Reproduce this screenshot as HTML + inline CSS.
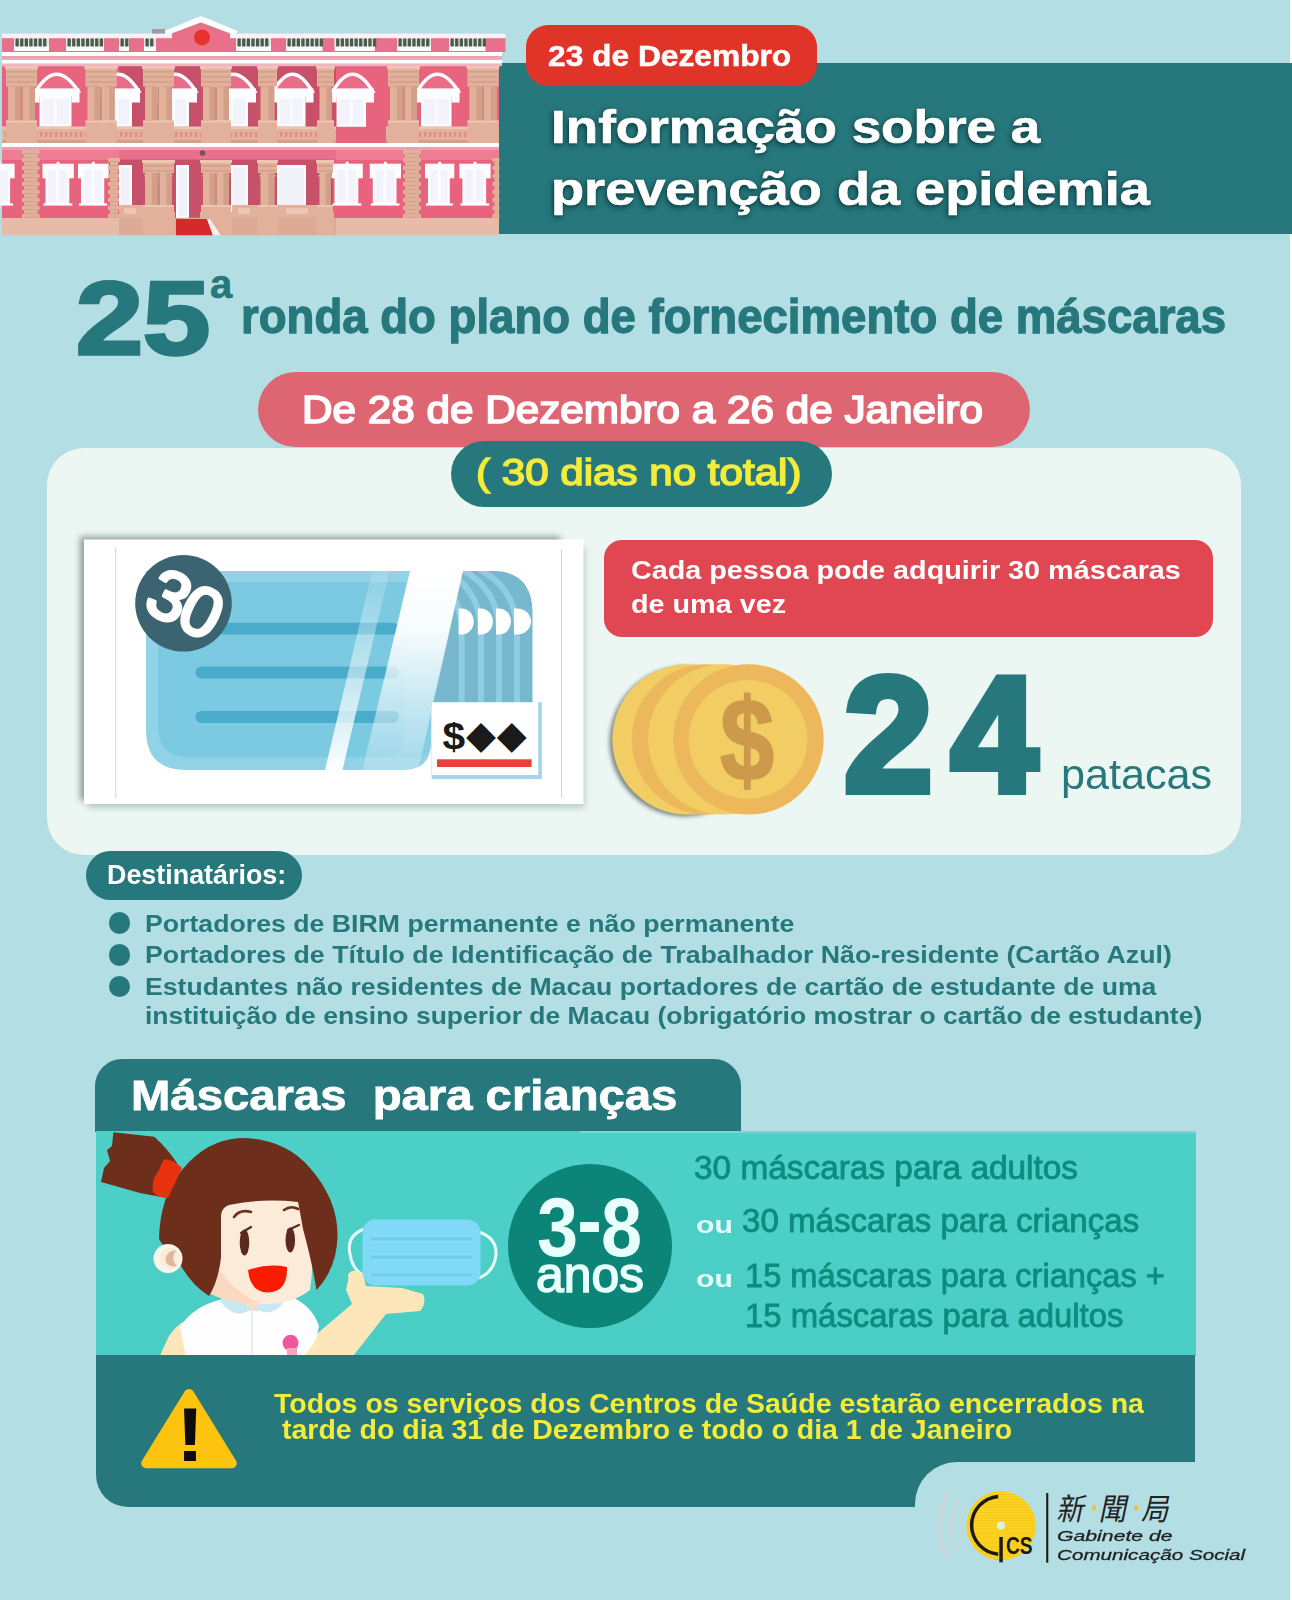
<!DOCTYPE html>
<html lang="pt"><head><meta charset="utf-8"><title>Informação sobre a prevenção da epidemia</title>
<style>
html,body{margin:0;padding:0;}
body{width:1292px;height:1600px;background:#b3dfe4;position:relative;overflow:hidden;font-family:"Liberation Sans","Noto Sans CJK TC",sans-serif;}
.b{position:absolute;}
.t{position:absolute;white-space:pre;line-height:1;transform-origin:0 0;display:block;}
svg{position:absolute;overflow:visible;}
</style></head>
<body>
<div class="b" style="left:1290px;top:0px;width:2px;height:1600px;background:#fff;"></div>
<div class="b" style="left:498px;top:63px;width:794px;height:171px;background:#26787c;"></div>
<svg width="510" height="240" style="left:0;top:0" viewBox="0 0 510 240"><defs><filter id="bb" x="-2%" y="-2%" width="104%" height="104%"><feGaussianBlur stdDeviation="0.7"/></filter><clipPath id="bclip"><rect x="0" y="12" width="505.5" height="40.5"/><rect x="0" y="52" width="502" height="14.5"/><rect x="0" y="66" width="499.3" height="169.6"/></clipPath></defs><g clip-path="url(#bclip)"><g filter="url(#bb)"><rect x="2.0" y="52.0" width="497.0" height="183.0" fill="#e8647e"/><rect x="119.0" y="66.0" width="217.0" height="77.0" fill="#c8516b"/><rect x="119.0" y="150.0" width="214.0" height="68.0" fill="#c8516b"/><rect x="2.0" y="35.0" width="504.0" height="17.0" fill="#e9708a"/><rect x="14.0" y="35.0" width="35.0" height="16.0" fill="#fdfcff"/><rect x="14.0" y="38.5" width="35.0" height="7.5" fill="#dfe8e2"/><rect x="15.5" y="38.3" width="3.3" height="8.2" fill="#4c5a4b"/><rect x="20.1" y="38.3" width="3.3" height="8.2" fill="#4c5a4b"/><rect x="24.7" y="38.3" width="3.3" height="8.2" fill="#4c5a4b"/><rect x="29.3" y="38.3" width="3.3" height="8.2" fill="#4c5a4b"/><rect x="33.9" y="38.3" width="3.3" height="8.2" fill="#4c5a4b"/><rect x="38.5" y="38.3" width="3.3" height="8.2" fill="#4c5a4b"/><rect x="43.1" y="38.3" width="3.3" height="8.2" fill="#4c5a4b"/><rect x="66.0" y="35.0" width="38.0" height="16.0" fill="#fdfcff"/><rect x="66.0" y="38.5" width="38.0" height="7.5" fill="#dfe8e2"/><rect x="67.5" y="38.3" width="3.3" height="8.2" fill="#4c5a4b"/><rect x="72.1" y="38.3" width="3.3" height="8.2" fill="#4c5a4b"/><rect x="76.7" y="38.3" width="3.3" height="8.2" fill="#4c5a4b"/><rect x="81.3" y="38.3" width="3.3" height="8.2" fill="#4c5a4b"/><rect x="85.9" y="38.3" width="3.3" height="8.2" fill="#4c5a4b"/><rect x="90.5" y="38.3" width="3.3" height="8.2" fill="#4c5a4b"/><rect x="95.1" y="38.3" width="3.3" height="8.2" fill="#4c5a4b"/><rect x="99.7" y="38.3" width="3.3" height="8.2" fill="#4c5a4b"/><rect x="119.0" y="35.0" width="10.0" height="16.0" fill="#fdfcff"/><rect x="119.0" y="38.5" width="10.0" height="7.5" fill="#dfe8e2"/><rect x="120.5" y="38.3" width="3.3" height="8.2" fill="#4c5a4b"/><rect x="125.1" y="38.3" width="3.3" height="8.2" fill="#4c5a4b"/><rect x="144.0" y="35.0" width="12.0" height="16.0" fill="#fdfcff"/><rect x="144.0" y="38.5" width="12.0" height="7.5" fill="#dfe8e2"/><rect x="145.5" y="38.3" width="3.3" height="8.2" fill="#4c5a4b"/><rect x="150.1" y="38.3" width="3.3" height="8.2" fill="#4c5a4b"/><rect x="236.0" y="35.0" width="35.0" height="16.0" fill="#fdfcff"/><rect x="236.0" y="38.5" width="35.0" height="7.5" fill="#dfe8e2"/><rect x="237.5" y="38.3" width="3.3" height="8.2" fill="#4c5a4b"/><rect x="242.1" y="38.3" width="3.3" height="8.2" fill="#4c5a4b"/><rect x="246.7" y="38.3" width="3.3" height="8.2" fill="#4c5a4b"/><rect x="251.3" y="38.3" width="3.3" height="8.2" fill="#4c5a4b"/><rect x="255.9" y="38.3" width="3.3" height="8.2" fill="#4c5a4b"/><rect x="260.5" y="38.3" width="3.3" height="8.2" fill="#4c5a4b"/><rect x="265.1" y="38.3" width="3.3" height="8.2" fill="#4c5a4b"/><rect x="286.0" y="35.0" width="36.5" height="16.0" fill="#fdfcff"/><rect x="286.0" y="38.5" width="36.5" height="7.5" fill="#dfe8e2"/><rect x="287.5" y="38.3" width="3.3" height="8.2" fill="#4c5a4b"/><rect x="292.1" y="38.3" width="3.3" height="8.2" fill="#4c5a4b"/><rect x="296.7" y="38.3" width="3.3" height="8.2" fill="#4c5a4b"/><rect x="301.3" y="38.3" width="3.3" height="8.2" fill="#4c5a4b"/><rect x="305.9" y="38.3" width="3.3" height="8.2" fill="#4c5a4b"/><rect x="310.5" y="38.3" width="3.3" height="8.2" fill="#4c5a4b"/><rect x="315.1" y="38.3" width="3.3" height="8.2" fill="#4c5a4b"/><rect x="319.7" y="38.3" width="3.3" height="8.2" fill="#4c5a4b"/><rect x="334.6" y="35.0" width="40.2" height="16.0" fill="#fdfcff"/><rect x="334.6" y="38.5" width="40.2" height="7.5" fill="#dfe8e2"/><rect x="336.1" y="38.3" width="3.3" height="8.2" fill="#4c5a4b"/><rect x="340.7" y="38.3" width="3.3" height="8.2" fill="#4c5a4b"/><rect x="345.3" y="38.3" width="3.3" height="8.2" fill="#4c5a4b"/><rect x="349.9" y="38.3" width="3.3" height="8.2" fill="#4c5a4b"/><rect x="354.5" y="38.3" width="3.3" height="8.2" fill="#4c5a4b"/><rect x="359.1" y="38.3" width="3.3" height="8.2" fill="#4c5a4b"/><rect x="363.7" y="38.3" width="3.3" height="8.2" fill="#4c5a4b"/><rect x="368.3" y="38.3" width="3.3" height="8.2" fill="#4c5a4b"/><rect x="372.9" y="38.3" width="3.3" height="8.2" fill="#4c5a4b"/><rect x="397.0" y="35.0" width="34.0" height="16.0" fill="#fdfcff"/><rect x="397.0" y="38.5" width="34.0" height="7.5" fill="#dfe8e2"/><rect x="398.5" y="38.3" width="3.3" height="8.2" fill="#4c5a4b"/><rect x="403.1" y="38.3" width="3.3" height="8.2" fill="#4c5a4b"/><rect x="407.7" y="38.3" width="3.3" height="8.2" fill="#4c5a4b"/><rect x="412.3" y="38.3" width="3.3" height="8.2" fill="#4c5a4b"/><rect x="416.9" y="38.3" width="3.3" height="8.2" fill="#4c5a4b"/><rect x="421.5" y="38.3" width="3.3" height="8.2" fill="#4c5a4b"/><rect x="426.1" y="38.3" width="3.3" height="8.2" fill="#4c5a4b"/><rect x="449.0" y="35.0" width="36.5" height="16.0" fill="#fdfcff"/><rect x="449.0" y="38.5" width="36.5" height="7.5" fill="#dfe8e2"/><rect x="450.5" y="38.3" width="3.3" height="8.2" fill="#4c5a4b"/><rect x="455.1" y="38.3" width="3.3" height="8.2" fill="#4c5a4b"/><rect x="459.7" y="38.3" width="3.3" height="8.2" fill="#4c5a4b"/><rect x="464.3" y="38.3" width="3.3" height="8.2" fill="#4c5a4b"/><rect x="468.9" y="38.3" width="3.3" height="8.2" fill="#4c5a4b"/><rect x="473.5" y="38.3" width="3.3" height="8.2" fill="#4c5a4b"/><rect x="478.1" y="38.3" width="3.3" height="8.2" fill="#4c5a4b"/><rect x="482.7" y="38.3" width="3.3" height="8.2" fill="#4c5a4b"/><rect x="2.0" y="33.6" width="504.0" height="4.6" fill="#fbf1f4"/><polygon points="164,31 201,16 238,31 235.5,35 201,22.5 166.5,35" fill="#fdfcff"/><polygon points="172,33.5 201,22.5 230,33.5 230,52 172,52" fill="#ea6f88"/><circle cx="202" cy="37.4" r="8" fill="#e8302d"/><rect x="152.0" y="29.0" width="13.0" height="4.5" fill="#9b9ba3"/><rect x="2.0" y="52.0" width="501.0" height="4.2" fill="#fdfcff"/><rect x="2.0" y="56.2" width="501.0" height="3.6" fill="#f3a3b4"/><rect x="2.0" y="59.8" width="501.0" height="4.0" fill="#fdfcff"/><rect x="2.0" y="63.8" width="501.0" height="2.4" fill="#f4b4c2"/><path d="M36.0,91 Q56.5,57.5 78.0,91 Z" fill="#e96d86" stroke="#fdfcff" stroke-width="3.6"/><rect x="35.0" y="88.4" width="44.5" height="8.0" fill="#fdfcff"/><rect x="35.0" y="96.0" width="4.5" height="6.5" fill="#fdfcff"/><rect x="71.5" y="96.0" width="8.0" height="6.5" fill="#fdfcff"/><rect x="39.5" y="95.0" width="32.0" height="31.8" fill="#fdfcff"/><rect x="42.0" y="99.0" width="12.5" height="25.0" fill="#f3f4fb"/><rect x="56.5" y="99.0" width="12.5" height="25.0" fill="#f3f4fb"/><path d="M333.1,91 Q352.3,57.5 372.5,91 Z" fill="#e96d86" stroke="#fdfcff" stroke-width="3.6"/><rect x="332.1" y="88.4" width="41.9" height="8.0" fill="#fdfcff"/><rect x="332.1" y="96.0" width="4.5" height="6.5" fill="#fdfcff"/><rect x="366.0" y="96.0" width="8.0" height="6.5" fill="#fdfcff"/><rect x="336.6" y="95.0" width="29.4" height="31.8" fill="#fdfcff"/><rect x="339.1" y="99.0" width="11.2" height="25.0" fill="#f3f4fb"/><rect x="352.3" y="99.0" width="11.2" height="25.0" fill="#f3f4fb"/><path d="M417.5,91 Q437.25,57.5 458.0,91 Z" fill="#e96d86" stroke="#fdfcff" stroke-width="3.6"/><rect x="416.5" y="88.4" width="43.0" height="8.0" fill="#fdfcff"/><rect x="416.5" y="96.0" width="4.5" height="6.5" fill="#fdfcff"/><rect x="451.5" y="96.0" width="8.0" height="6.5" fill="#fdfcff"/><rect x="421.0" y="95.0" width="30.5" height="31.8" fill="#fdfcff"/><rect x="423.5" y="99.0" width="11.8" height="25.0" fill="#f3f4fb"/><rect x="437.2" y="99.0" width="11.8" height="25.0" fill="#f3f4fb"/><path d="M98.5,91 Q118.0,57.5 138.5,91 Z" fill="#e96d86" stroke="#fdfcff" stroke-width="3.6"/><rect x="97.5" y="88.4" width="42.5" height="8.0" fill="#fdfcff"/><rect x="97.5" y="96.0" width="4.5" height="6.5" fill="#fdfcff"/><rect x="132.0" y="96.0" width="8.0" height="6.5" fill="#fdfcff"/><rect x="102.0" y="95.0" width="30.0" height="31.8" fill="#fdfcff"/><rect x="104.5" y="99.0" width="11.5" height="25.0" fill="#f3f4fb"/><rect x="118.0" y="99.0" width="11.5" height="25.0" fill="#f3f4fb"/><path d="M155.5,91 Q175.0,57.5 195.5,91 Z" fill="#e96d86" stroke="#fdfcff" stroke-width="3.6"/><rect x="154.5" y="88.4" width="42.5" height="8.0" fill="#fdfcff"/><rect x="154.5" y="96.0" width="4.5" height="6.5" fill="#fdfcff"/><rect x="189.0" y="96.0" width="8.0" height="6.5" fill="#fdfcff"/><rect x="159.0" y="95.0" width="30.0" height="31.8" fill="#fdfcff"/><rect x="161.5" y="99.0" width="11.5" height="25.0" fill="#f3f4fb"/><rect x="175.0" y="99.0" width="11.5" height="25.0" fill="#f3f4fb"/><path d="M212.5,91 Q233.0,57.5 254.5,91 Z" fill="#e96d86" stroke="#fdfcff" stroke-width="3.6"/><rect x="211.5" y="88.4" width="44.5" height="8.0" fill="#fdfcff"/><rect x="211.5" y="96.0" width="4.5" height="6.5" fill="#fdfcff"/><rect x="248.0" y="96.0" width="8.0" height="6.5" fill="#fdfcff"/><rect x="216.0" y="95.0" width="32.0" height="31.8" fill="#fdfcff"/><rect x="218.5" y="99.0" width="12.5" height="25.0" fill="#f3f4fb"/><rect x="233.0" y="99.0" width="12.5" height="25.0" fill="#f3f4fb"/><path d="M273.5,91 Q292.25,57.5 312.0,91 Z" fill="#e96d86" stroke="#fdfcff" stroke-width="3.6"/><rect x="272.5" y="88.4" width="41.0" height="8.0" fill="#fdfcff"/><rect x="272.5" y="96.0" width="4.5" height="6.5" fill="#fdfcff"/><rect x="305.5" y="96.0" width="8.0" height="6.5" fill="#fdfcff"/><rect x="277.0" y="95.0" width="28.5" height="31.8" fill="#fdfcff"/><rect x="279.5" y="99.0" width="10.8" height="25.0" fill="#f3f4fb"/><rect x="292.2" y="99.0" width="10.8" height="25.0" fill="#f3f4fb"/><rect x="2.0" y="126.7" width="334.0" height="16.3" fill="#e1b19b"/><rect x="2.0" y="126.7" width="334.0" height="2.5" fill="#ecc6b3"/><rect x="5.0" y="132.0" width="2.2" height="5.0" fill="#e58a92"/><rect x="10.0" y="132.0" width="2.2" height="5.0" fill="#e58a92"/><rect x="15.0" y="132.0" width="2.2" height="5.0" fill="#e58a92"/><rect x="20.0" y="132.0" width="2.2" height="5.0" fill="#e58a92"/><rect x="25.0" y="132.0" width="2.2" height="5.0" fill="#e58a92"/><rect x="30.0" y="132.0" width="2.2" height="5.0" fill="#e58a92"/><rect x="35.0" y="132.0" width="2.2" height="5.0" fill="#e58a92"/><rect x="40.0" y="132.0" width="2.2" height="5.0" fill="#e58a92"/><rect x="45.0" y="132.0" width="2.2" height="5.0" fill="#e58a92"/><rect x="50.0" y="132.0" width="2.2" height="5.0" fill="#e58a92"/><rect x="55.0" y="132.0" width="2.2" height="5.0" fill="#e58a92"/><rect x="60.0" y="132.0" width="2.2" height="5.0" fill="#e58a92"/><rect x="65.0" y="132.0" width="2.2" height="5.0" fill="#e58a92"/><rect x="70.0" y="132.0" width="2.2" height="5.0" fill="#e58a92"/><rect x="75.0" y="132.0" width="2.2" height="5.0" fill="#e58a92"/><rect x="80.0" y="132.0" width="2.2" height="5.0" fill="#e58a92"/><rect x="85.0" y="132.0" width="2.2" height="5.0" fill="#e58a92"/><rect x="90.0" y="132.0" width="2.2" height="5.0" fill="#e58a92"/><rect x="95.0" y="132.0" width="2.2" height="5.0" fill="#e58a92"/><rect x="100.0" y="132.0" width="2.2" height="5.0" fill="#e58a92"/><rect x="105.0" y="132.0" width="2.2" height="5.0" fill="#e58a92"/><rect x="110.0" y="132.0" width="2.2" height="5.0" fill="#e58a92"/><rect x="115.0" y="132.0" width="2.2" height="5.0" fill="#e58a92"/><rect x="120.0" y="132.0" width="2.2" height="5.0" fill="#e58a92"/><rect x="125.0" y="132.0" width="2.2" height="5.0" fill="#e58a92"/><rect x="130.0" y="132.0" width="2.2" height="5.0" fill="#e58a92"/><rect x="135.0" y="132.0" width="2.2" height="5.0" fill="#e58a92"/><rect x="140.0" y="132.0" width="2.2" height="5.0" fill="#e58a92"/><rect x="145.0" y="132.0" width="2.2" height="5.0" fill="#e58a92"/><rect x="150.0" y="132.0" width="2.2" height="5.0" fill="#e58a92"/><rect x="155.0" y="132.0" width="2.2" height="5.0" fill="#e58a92"/><rect x="160.0" y="132.0" width="2.2" height="5.0" fill="#e58a92"/><rect x="165.0" y="132.0" width="2.2" height="5.0" fill="#e58a92"/><rect x="170.0" y="132.0" width="2.2" height="5.0" fill="#e58a92"/><rect x="175.0" y="132.0" width="2.2" height="5.0" fill="#e58a92"/><rect x="180.0" y="132.0" width="2.2" height="5.0" fill="#e58a92"/><rect x="185.0" y="132.0" width="2.2" height="5.0" fill="#e58a92"/><rect x="190.0" y="132.0" width="2.2" height="5.0" fill="#e58a92"/><rect x="195.0" y="132.0" width="2.2" height="5.0" fill="#e58a92"/><rect x="200.0" y="132.0" width="2.2" height="5.0" fill="#e58a92"/><rect x="205.0" y="132.0" width="2.2" height="5.0" fill="#e58a92"/><rect x="210.0" y="132.0" width="2.2" height="5.0" fill="#e58a92"/><rect x="215.0" y="132.0" width="2.2" height="5.0" fill="#e58a92"/><rect x="220.0" y="132.0" width="2.2" height="5.0" fill="#e58a92"/><rect x="225.0" y="132.0" width="2.2" height="5.0" fill="#e58a92"/><rect x="230.0" y="132.0" width="2.2" height="5.0" fill="#e58a92"/><rect x="235.0" y="132.0" width="2.2" height="5.0" fill="#e58a92"/><rect x="240.0" y="132.0" width="2.2" height="5.0" fill="#e58a92"/><rect x="245.0" y="132.0" width="2.2" height="5.0" fill="#e58a92"/><rect x="250.0" y="132.0" width="2.2" height="5.0" fill="#e58a92"/><rect x="255.0" y="132.0" width="2.2" height="5.0" fill="#e58a92"/><rect x="260.0" y="132.0" width="2.2" height="5.0" fill="#e58a92"/><rect x="265.0" y="132.0" width="2.2" height="5.0" fill="#e58a92"/><rect x="270.0" y="132.0" width="2.2" height="5.0" fill="#e58a92"/><rect x="275.0" y="132.0" width="2.2" height="5.0" fill="#e58a92"/><rect x="280.0" y="132.0" width="2.2" height="5.0" fill="#e58a92"/><rect x="285.0" y="132.0" width="2.2" height="5.0" fill="#e58a92"/><rect x="290.0" y="132.0" width="2.2" height="5.0" fill="#e58a92"/><rect x="295.0" y="132.0" width="2.2" height="5.0" fill="#e58a92"/><rect x="300.0" y="132.0" width="2.2" height="5.0" fill="#e58a92"/><rect x="305.0" y="132.0" width="2.2" height="5.0" fill="#e58a92"/><rect x="310.0" y="132.0" width="2.2" height="5.0" fill="#e58a92"/><rect x="315.0" y="132.0" width="2.2" height="5.0" fill="#e58a92"/><rect x="320.0" y="132.0" width="2.2" height="5.0" fill="#e58a92"/><rect x="325.0" y="132.0" width="2.2" height="5.0" fill="#e58a92"/><rect x="330.0" y="132.0" width="2.2" height="5.0" fill="#e58a92"/><rect x="2.0" y="140.0" width="334.0" height="3.0" fill="#d39f88"/><rect x="386.0" y="126.7" width="113.0" height="16.3" fill="#e1b19b"/><rect x="386.0" y="126.7" width="113.0" height="2.5" fill="#ecc6b3"/><rect x="389.0" y="132.0" width="2.2" height="5.0" fill="#e58a92"/><rect x="394.0" y="132.0" width="2.2" height="5.0" fill="#e58a92"/><rect x="399.0" y="132.0" width="2.2" height="5.0" fill="#e58a92"/><rect x="404.0" y="132.0" width="2.2" height="5.0" fill="#e58a92"/><rect x="409.0" y="132.0" width="2.2" height="5.0" fill="#e58a92"/><rect x="414.0" y="132.0" width="2.2" height="5.0" fill="#e58a92"/><rect x="419.0" y="132.0" width="2.2" height="5.0" fill="#e58a92"/><rect x="424.0" y="132.0" width="2.2" height="5.0" fill="#e58a92"/><rect x="429.0" y="132.0" width="2.2" height="5.0" fill="#e58a92"/><rect x="434.0" y="132.0" width="2.2" height="5.0" fill="#e58a92"/><rect x="439.0" y="132.0" width="2.2" height="5.0" fill="#e58a92"/><rect x="444.0" y="132.0" width="2.2" height="5.0" fill="#e58a92"/><rect x="449.0" y="132.0" width="2.2" height="5.0" fill="#e58a92"/><rect x="454.0" y="132.0" width="2.2" height="5.0" fill="#e58a92"/><rect x="459.0" y="132.0" width="2.2" height="5.0" fill="#e58a92"/><rect x="464.0" y="132.0" width="2.2" height="5.0" fill="#e58a92"/><rect x="469.0" y="132.0" width="2.2" height="5.0" fill="#e58a92"/><rect x="474.0" y="132.0" width="2.2" height="5.0" fill="#e58a92"/><rect x="479.0" y="132.0" width="2.2" height="5.0" fill="#e58a92"/><rect x="484.0" y="132.0" width="2.2" height="5.0" fill="#e58a92"/><rect x="489.0" y="132.0" width="2.2" height="5.0" fill="#e58a92"/><rect x="494.0" y="132.0" width="2.2" height="5.0" fill="#e58a92"/><rect x="386.0" y="140.0" width="113.0" height="3.0" fill="#d39f88"/><rect x="6.0" y="66.0" width="31.0" height="20.5" fill="#e1b19b"/><rect x="5.0" y="66.0" width="33.0" height="3.0" fill="#ecc6b3"/><rect x="7.0" y="71.0" width="29.0" height="1.6" fill="#d39f88"/><rect x="7.0" y="76.0" width="29.0" height="1.6" fill="#d39f88"/><rect x="7.0" y="81.0" width="29.0" height="1.6" fill="#d39f88"/><rect x="8.0" y="86.5" width="12.5" height="34.0" fill="#e1b19b"/><rect x="22.5" y="86.5" width="12.5" height="34.0" fill="#e1b19b"/><rect x="14.9" y="86.5" width="5.6" height="34.0" fill="#d39f88"/><rect x="29.4" y="86.5" width="5.6" height="34.0" fill="#d39f88"/><rect x="20.5" y="86.5" width="2.0" height="34.0" fill="#c98f7d"/><rect x="6.0" y="120.5" width="31.0" height="22.5" fill="#e1b19b"/><rect x="6.0" y="120.5" width="31.0" height="2.0" fill="#ecc6b3"/><rect x="85.5" y="66.0" width="31.2" height="20.5" fill="#e1b19b"/><rect x="84.5" y="66.0" width="33.2" height="3.0" fill="#ecc6b3"/><rect x="86.5" y="71.0" width="29.2" height="1.6" fill="#d39f88"/><rect x="86.5" y="76.0" width="29.2" height="1.6" fill="#d39f88"/><rect x="86.5" y="81.0" width="29.2" height="1.6" fill="#d39f88"/><rect x="87.5" y="86.5" width="12.6" height="34.0" fill="#e1b19b"/><rect x="102.1" y="86.5" width="12.6" height="34.0" fill="#e1b19b"/><rect x="94.4" y="86.5" width="5.7" height="34.0" fill="#d39f88"/><rect x="109.0" y="86.5" width="5.7" height="34.0" fill="#d39f88"/><rect x="100.1" y="86.5" width="2.0" height="34.0" fill="#c98f7d"/><rect x="85.5" y="120.5" width="31.2" height="22.5" fill="#e1b19b"/><rect x="85.5" y="120.5" width="31.2" height="2.0" fill="#ecc6b3"/><rect x="143.0" y="66.0" width="31.0" height="20.5" fill="#e1b19b"/><rect x="142.0" y="66.0" width="33.0" height="3.0" fill="#ecc6b3"/><rect x="144.0" y="71.0" width="29.0" height="1.6" fill="#d39f88"/><rect x="144.0" y="76.0" width="29.0" height="1.6" fill="#d39f88"/><rect x="144.0" y="81.0" width="29.0" height="1.6" fill="#d39f88"/><rect x="145.0" y="86.5" width="12.5" height="34.0" fill="#e1b19b"/><rect x="159.5" y="86.5" width="12.5" height="34.0" fill="#e1b19b"/><rect x="151.9" y="86.5" width="5.6" height="34.0" fill="#d39f88"/><rect x="166.4" y="86.5" width="5.6" height="34.0" fill="#d39f88"/><rect x="157.5" y="86.5" width="2.0" height="34.0" fill="#c98f7d"/><rect x="143.0" y="120.5" width="31.0" height="22.5" fill="#e1b19b"/><rect x="143.0" y="120.5" width="31.0" height="2.0" fill="#ecc6b3"/><rect x="201.0" y="66.0" width="30.0" height="20.5" fill="#e1b19b"/><rect x="200.0" y="66.0" width="32.0" height="3.0" fill="#ecc6b3"/><rect x="202.0" y="71.0" width="28.0" height="1.6" fill="#d39f88"/><rect x="202.0" y="76.0" width="28.0" height="1.6" fill="#d39f88"/><rect x="202.0" y="81.0" width="28.0" height="1.6" fill="#d39f88"/><rect x="203.0" y="86.5" width="12.0" height="34.0" fill="#e1b19b"/><rect x="217.0" y="86.5" width="12.0" height="34.0" fill="#e1b19b"/><rect x="209.6" y="86.5" width="5.4" height="34.0" fill="#d39f88"/><rect x="223.6" y="86.5" width="5.4" height="34.0" fill="#d39f88"/><rect x="215.0" y="86.5" width="2.0" height="34.0" fill="#c98f7d"/><rect x="201.0" y="120.5" width="30.0" height="22.5" fill="#e1b19b"/><rect x="201.0" y="120.5" width="30.0" height="2.0" fill="#ecc6b3"/><rect x="388.0" y="66.0" width="31.0" height="20.5" fill="#e1b19b"/><rect x="387.0" y="66.0" width="33.0" height="3.0" fill="#ecc6b3"/><rect x="389.0" y="71.0" width="29.0" height="1.6" fill="#d39f88"/><rect x="389.0" y="76.0" width="29.0" height="1.6" fill="#d39f88"/><rect x="389.0" y="81.0" width="29.0" height="1.6" fill="#d39f88"/><rect x="390.0" y="86.5" width="12.5" height="34.0" fill="#e1b19b"/><rect x="404.5" y="86.5" width="12.5" height="34.0" fill="#e1b19b"/><rect x="396.9" y="86.5" width="5.6" height="34.0" fill="#d39f88"/><rect x="411.4" y="86.5" width="5.6" height="34.0" fill="#d39f88"/><rect x="402.5" y="86.5" width="2.0" height="34.0" fill="#c98f7d"/><rect x="388.0" y="120.5" width="31.0" height="22.5" fill="#e1b19b"/><rect x="388.0" y="120.5" width="31.0" height="2.0" fill="#ecc6b3"/><rect x="467.4" y="66.0" width="31.2" height="20.5" fill="#e1b19b"/><rect x="466.4" y="66.0" width="33.2" height="3.0" fill="#ecc6b3"/><rect x="468.4" y="71.0" width="29.2" height="1.6" fill="#d39f88"/><rect x="468.4" y="76.0" width="29.2" height="1.6" fill="#d39f88"/><rect x="468.4" y="81.0" width="29.2" height="1.6" fill="#d39f88"/><rect x="469.4" y="86.5" width="12.6" height="34.0" fill="#e1b19b"/><rect x="484.0" y="86.5" width="12.6" height="34.0" fill="#e1b19b"/><rect x="476.3" y="86.5" width="5.7" height="34.0" fill="#d39f88"/><rect x="490.9" y="86.5" width="5.7" height="34.0" fill="#d39f88"/><rect x="482.0" y="86.5" width="2.0" height="34.0" fill="#c98f7d"/><rect x="467.4" y="120.5" width="31.2" height="22.5" fill="#e1b19b"/><rect x="467.4" y="120.5" width="31.2" height="2.0" fill="#ecc6b3"/><rect x="258.0" y="66.0" width="19.0" height="20.5" fill="#e1b19b"/><rect x="257.0" y="66.0" width="21.0" height="3.0" fill="#ecc6b3"/><rect x="259.0" y="71.0" width="17.0" height="1.6" fill="#d39f88"/><rect x="259.0" y="76.0" width="17.0" height="1.6" fill="#d39f88"/><rect x="259.0" y="81.0" width="17.0" height="1.6" fill="#d39f88"/><rect x="260.5" y="86.5" width="14.0" height="34.0" fill="#e1b19b"/><rect x="268.4" y="86.5" width="5.7" height="34.0" fill="#d39f88"/><rect x="258.0" y="120.5" width="19.0" height="22.5" fill="#e1b19b"/><rect x="258.0" y="120.5" width="19.0" height="2.0" fill="#ecc6b3"/><rect x="317.0" y="66.0" width="17.0" height="20.5" fill="#e1b19b"/><rect x="316.0" y="66.0" width="19.0" height="3.0" fill="#ecc6b3"/><rect x="318.0" y="71.0" width="15.0" height="1.6" fill="#d39f88"/><rect x="318.0" y="76.0" width="15.0" height="1.6" fill="#d39f88"/><rect x="318.0" y="81.0" width="15.0" height="1.6" fill="#d39f88"/><rect x="319.5" y="86.5" width="12.0" height="34.0" fill="#e1b19b"/><rect x="326.4" y="86.5" width="5.1" height="34.0" fill="#d39f88"/><rect x="317.0" y="120.5" width="17.0" height="22.5" fill="#e1b19b"/><rect x="317.0" y="120.5" width="17.0" height="2.0" fill="#ecc6b3"/><rect x="2.0" y="143.0" width="497.0" height="4.0" fill="#fdfcff"/><rect x="2.0" y="147.0" width="497.0" height="3.0" fill="#f29cb0"/><rect x="2.0" y="150.0" width="117.0" height="10.0" fill="#ee7d94"/><rect x="336.0" y="150.0" width="163.0" height="10.0" fill="#ee7d94"/><rect x="119.0" y="150.0" width="217.0" height="9.5" fill="#e7708a"/><rect x="-16.5" y="163.7" width="31.1" height="14.6" fill="#fdfcff"/><rect x="-2.5" y="161.8" width="3.0" height="2.5" fill="#fdfcff"/><rect x="-13.5" y="166.0" width="23.6" height="39.0" fill="#fdfcff"/><rect x="-11.0" y="170.0" width="8.1" height="32.0" fill="#f3f4fb"/><rect x="0.0" y="170.0" width="8.1" height="32.0" fill="#f3f4fb"/><rect x="-15.5" y="203.4" width="28.6" height="2.2" fill="#fdfcff"/><rect x="42.5" y="163.7" width="31.3" height="14.6" fill="#fdfcff"/><rect x="56.6" y="161.8" width="3.0" height="2.5" fill="#fdfcff"/><rect x="45.5" y="166.0" width="23.8" height="39.0" fill="#fdfcff"/><rect x="48.0" y="170.0" width="8.1" height="32.0" fill="#f3f4fb"/><rect x="59.1" y="170.0" width="8.1" height="32.0" fill="#f3f4fb"/><rect x="43.5" y="203.4" width="28.8" height="2.2" fill="#fdfcff"/><rect x="78.0" y="163.7" width="30.7" height="14.6" fill="#fdfcff"/><rect x="91.8" y="161.8" width="3.0" height="2.5" fill="#fdfcff"/><rect x="81.0" y="166.0" width="23.2" height="39.0" fill="#fdfcff"/><rect x="83.5" y="170.0" width="7.9" height="32.0" fill="#f3f4fb"/><rect x="94.3" y="170.0" width="7.9" height="32.0" fill="#f3f4fb"/><rect x="79.0" y="203.4" width="28.2" height="2.2" fill="#fdfcff"/><rect x="331.6" y="163.7" width="31.2" height="14.6" fill="#fdfcff"/><rect x="345.7" y="161.8" width="3.0" height="2.5" fill="#fdfcff"/><rect x="334.6" y="166.0" width="23.7" height="39.0" fill="#fdfcff"/><rect x="337.1" y="170.0" width="8.1" height="32.0" fill="#f3f4fb"/><rect x="348.2" y="170.0" width="8.1" height="32.0" fill="#f3f4fb"/><rect x="332.6" y="203.4" width="28.7" height="2.2" fill="#fdfcff"/><rect x="369.8" y="163.7" width="31.2" height="14.6" fill="#fdfcff"/><rect x="383.9" y="161.8" width="3.0" height="2.5" fill="#fdfcff"/><rect x="372.8" y="166.0" width="23.7" height="39.0" fill="#fdfcff"/><rect x="375.3" y="170.0" width="8.1" height="32.0" fill="#f3f4fb"/><rect x="386.4" y="170.0" width="8.1" height="32.0" fill="#f3f4fb"/><rect x="370.8" y="203.4" width="28.7" height="2.2" fill="#fdfcff"/><rect x="425.0" y="163.7" width="29.3" height="14.6" fill="#fdfcff"/><rect x="438.1" y="161.8" width="3.0" height="2.5" fill="#fdfcff"/><rect x="428.0" y="166.0" width="21.8" height="39.0" fill="#fdfcff"/><rect x="430.5" y="170.0" width="7.2" height="32.0" fill="#f3f4fb"/><rect x="440.6" y="170.0" width="7.2" height="32.0" fill="#f3f4fb"/><rect x="426.0" y="203.4" width="26.8" height="2.2" fill="#fdfcff"/><rect x="459.4" y="163.7" width="31.2" height="14.6" fill="#fdfcff"/><rect x="473.5" y="161.8" width="3.0" height="2.5" fill="#fdfcff"/><rect x="462.4" y="166.0" width="23.7" height="39.0" fill="#fdfcff"/><rect x="464.9" y="170.0" width="8.1" height="32.0" fill="#f3f4fb"/><rect x="476.0" y="170.0" width="8.1" height="32.0" fill="#f3f4fb"/><rect x="460.4" y="203.4" width="28.7" height="2.2" fill="#fdfcff"/><rect x="24.0" y="150.0" width="13.5" height="67.5" fill="#e1b19b"/><rect x="22.0" y="150.0" width="17.5" height="4.0" fill="#e1b19b"/><rect x="24.0" y="153.2" width="13.5" height="0.9" fill="#d39f88"/><rect x="24.0" y="157.2" width="13.5" height="0.9" fill="#d39f88"/><rect x="22.0" y="158.0" width="17.5" height="4.0" fill="#e1b19b"/><rect x="24.0" y="161.2" width="13.5" height="0.9" fill="#d39f88"/><rect x="24.0" y="165.2" width="13.5" height="0.9" fill="#d39f88"/><rect x="22.0" y="166.0" width="17.5" height="4.0" fill="#e1b19b"/><rect x="24.0" y="169.2" width="13.5" height="0.9" fill="#d39f88"/><rect x="24.0" y="173.2" width="13.5" height="0.9" fill="#d39f88"/><rect x="22.0" y="174.0" width="17.5" height="4.0" fill="#e1b19b"/><rect x="24.0" y="177.2" width="13.5" height="0.9" fill="#d39f88"/><rect x="24.0" y="181.2" width="13.5" height="0.9" fill="#d39f88"/><rect x="22.0" y="182.0" width="17.5" height="4.0" fill="#e1b19b"/><rect x="24.0" y="185.2" width="13.5" height="0.9" fill="#d39f88"/><rect x="24.0" y="189.2" width="13.5" height="0.9" fill="#d39f88"/><rect x="22.0" y="190.0" width="17.5" height="4.0" fill="#e1b19b"/><rect x="24.0" y="193.2" width="13.5" height="0.9" fill="#d39f88"/><rect x="24.0" y="197.2" width="13.5" height="0.9" fill="#d39f88"/><rect x="22.0" y="198.0" width="17.5" height="4.0" fill="#e1b19b"/><rect x="24.0" y="201.2" width="13.5" height="0.9" fill="#d39f88"/><rect x="24.0" y="205.2" width="13.5" height="0.9" fill="#d39f88"/><rect x="22.0" y="206.0" width="17.5" height="4.0" fill="#e1b19b"/><rect x="24.0" y="209.2" width="13.5" height="0.9" fill="#d39f88"/><rect x="24.0" y="213.2" width="13.5" height="0.9" fill="#d39f88"/><rect x="22.0" y="214.0" width="17.5" height="4.0" fill="#e1b19b"/><rect x="24.0" y="217.2" width="13.5" height="0.9" fill="#d39f88"/><rect x="405.0" y="150.0" width="14.0" height="68.0" fill="#e1b19b"/><rect x="403.0" y="150.0" width="18.0" height="4.0" fill="#e1b19b"/><rect x="405.0" y="153.2" width="14.0" height="0.9" fill="#d39f88"/><rect x="405.0" y="157.2" width="14.0" height="0.9" fill="#d39f88"/><rect x="403.0" y="158.0" width="18.0" height="4.0" fill="#e1b19b"/><rect x="405.0" y="161.2" width="14.0" height="0.9" fill="#d39f88"/><rect x="405.0" y="165.2" width="14.0" height="0.9" fill="#d39f88"/><rect x="403.0" y="166.0" width="18.0" height="4.0" fill="#e1b19b"/><rect x="405.0" y="169.2" width="14.0" height="0.9" fill="#d39f88"/><rect x="405.0" y="173.2" width="14.0" height="0.9" fill="#d39f88"/><rect x="403.0" y="174.0" width="18.0" height="4.0" fill="#e1b19b"/><rect x="405.0" y="177.2" width="14.0" height="0.9" fill="#d39f88"/><rect x="405.0" y="181.2" width="14.0" height="0.9" fill="#d39f88"/><rect x="403.0" y="182.0" width="18.0" height="4.0" fill="#e1b19b"/><rect x="405.0" y="185.2" width="14.0" height="0.9" fill="#d39f88"/><rect x="405.0" y="189.2" width="14.0" height="0.9" fill="#d39f88"/><rect x="403.0" y="190.0" width="18.0" height="4.0" fill="#e1b19b"/><rect x="405.0" y="193.2" width="14.0" height="0.9" fill="#d39f88"/><rect x="405.0" y="197.2" width="14.0" height="0.9" fill="#d39f88"/><rect x="403.0" y="198.0" width="18.0" height="4.0" fill="#e1b19b"/><rect x="405.0" y="201.2" width="14.0" height="0.9" fill="#d39f88"/><rect x="405.0" y="205.2" width="14.0" height="0.9" fill="#d39f88"/><rect x="403.0" y="206.0" width="18.0" height="4.0" fill="#e1b19b"/><rect x="405.0" y="209.2" width="14.0" height="0.9" fill="#d39f88"/><rect x="405.0" y="213.2" width="14.0" height="0.9" fill="#d39f88"/><rect x="403.0" y="214.0" width="18.0" height="4.0" fill="#e1b19b"/><rect x="405.0" y="217.2" width="14.0" height="0.9" fill="#d39f88"/><rect x="110.0" y="158.0" width="8.0" height="60.0" fill="#e1b19b"/><rect x="108.0" y="158.0" width="12.0" height="4.0" fill="#e1b19b"/><rect x="110.0" y="161.2" width="8.0" height="0.9" fill="#d39f88"/><rect x="110.0" y="165.2" width="8.0" height="0.9" fill="#d39f88"/><rect x="108.0" y="166.0" width="12.0" height="4.0" fill="#e1b19b"/><rect x="110.0" y="169.2" width="8.0" height="0.9" fill="#d39f88"/><rect x="110.0" y="173.2" width="8.0" height="0.9" fill="#d39f88"/><rect x="108.0" y="174.0" width="12.0" height="4.0" fill="#e1b19b"/><rect x="110.0" y="177.2" width="8.0" height="0.9" fill="#d39f88"/><rect x="110.0" y="181.2" width="8.0" height="0.9" fill="#d39f88"/><rect x="108.0" y="182.0" width="12.0" height="4.0" fill="#e1b19b"/><rect x="110.0" y="185.2" width="8.0" height="0.9" fill="#d39f88"/><rect x="110.0" y="189.2" width="8.0" height="0.9" fill="#d39f88"/><rect x="108.0" y="190.0" width="12.0" height="4.0" fill="#e1b19b"/><rect x="110.0" y="193.2" width="8.0" height="0.9" fill="#d39f88"/><rect x="110.0" y="197.2" width="8.0" height="0.9" fill="#d39f88"/><rect x="108.0" y="198.0" width="12.0" height="4.0" fill="#e1b19b"/><rect x="110.0" y="201.2" width="8.0" height="0.9" fill="#d39f88"/><rect x="110.0" y="205.2" width="8.0" height="0.9" fill="#d39f88"/><rect x="108.0" y="206.0" width="12.0" height="4.0" fill="#e1b19b"/><rect x="110.0" y="209.2" width="8.0" height="0.9" fill="#d39f88"/><rect x="110.0" y="213.2" width="8.0" height="0.9" fill="#d39f88"/><rect x="108.0" y="214.0" width="12.0" height="4.0" fill="#e1b19b"/><rect x="110.0" y="217.2" width="8.0" height="0.9" fill="#d39f88"/><rect x="494.5" y="158.0" width="4.5" height="60.0" fill="#e1b19b"/><rect x="492.5" y="158.0" width="8.5" height="4.0" fill="#e1b19b"/><rect x="494.5" y="161.2" width="4.5" height="0.9" fill="#d39f88"/><rect x="494.5" y="165.2" width="4.5" height="0.9" fill="#d39f88"/><rect x="492.5" y="166.0" width="8.5" height="4.0" fill="#e1b19b"/><rect x="494.5" y="169.2" width="4.5" height="0.9" fill="#d39f88"/><rect x="494.5" y="173.2" width="4.5" height="0.9" fill="#d39f88"/><rect x="492.5" y="174.0" width="8.5" height="4.0" fill="#e1b19b"/><rect x="494.5" y="177.2" width="4.5" height="0.9" fill="#d39f88"/><rect x="494.5" y="181.2" width="4.5" height="0.9" fill="#d39f88"/><rect x="492.5" y="182.0" width="8.5" height="4.0" fill="#e1b19b"/><rect x="494.5" y="185.2" width="4.5" height="0.9" fill="#d39f88"/><rect x="494.5" y="189.2" width="4.5" height="0.9" fill="#d39f88"/><rect x="492.5" y="190.0" width="8.5" height="4.0" fill="#e1b19b"/><rect x="494.5" y="193.2" width="4.5" height="0.9" fill="#d39f88"/><rect x="494.5" y="197.2" width="4.5" height="0.9" fill="#d39f88"/><rect x="492.5" y="198.0" width="8.5" height="4.0" fill="#e1b19b"/><rect x="494.5" y="201.2" width="4.5" height="0.9" fill="#d39f88"/><rect x="494.5" y="205.2" width="4.5" height="0.9" fill="#d39f88"/><rect x="492.5" y="206.0" width="8.5" height="4.0" fill="#e1b19b"/><rect x="494.5" y="209.2" width="4.5" height="0.9" fill="#d39f88"/><rect x="494.5" y="213.2" width="4.5" height="0.9" fill="#d39f88"/><rect x="492.5" y="214.0" width="8.5" height="4.0" fill="#e1b19b"/><rect x="494.5" y="217.2" width="4.5" height="0.9" fill="#d39f88"/><rect x="119.0" y="165.0" width="13.0" height="53.0" fill="#fdfcff"/><rect x="121.0" y="168.0" width="9.0" height="48.0" fill="#f1f2f9"/><rect x="176.0" y="165.0" width="13.0" height="53.0" fill="#fdfcff"/><rect x="178.0" y="168.0" width="9.0" height="48.0" fill="#f1f2f9"/><rect x="231.0" y="165.0" width="17.0" height="53.0" fill="#fdfcff"/><rect x="233.0" y="168.0" width="13.0" height="48.0" fill="#f1f2f9"/><rect x="277.0" y="165.0" width="29.0" height="53.0" fill="#fdfcff"/><rect x="279.0" y="168.0" width="25.0" height="48.0" fill="#f1f2f9"/><rect x="119.0" y="205.0" width="24.0" height="13.0" fill="#e1b19b"/><rect x="124.0" y="208.0" width="12.0" height="6.0" fill="#ecc6b3"/><rect x="232.0" y="205.0" width="26.0" height="13.0" fill="#e1b19b"/><rect x="238.0" y="208.0" width="12.0" height="6.0" fill="#ecc6b3"/><rect x="277.0" y="205.0" width="40.0" height="13.0" fill="#e1b19b"/><rect x="286.0" y="208.0" width="22.0" height="6.0" fill="#ecc6b3"/><rect x="143.0" y="160.0" width="31.0" height="13.0" fill="#e1b19b"/><rect x="142.0" y="160.0" width="33.0" height="3.0" fill="#ecc6b3"/><rect x="144.0" y="165.0" width="29.0" height="1.6" fill="#d39f88"/><rect x="144.0" y="170.0" width="29.0" height="1.6" fill="#d39f88"/><rect x="144.0" y="175.0" width="29.0" height="1.6" fill="#d39f88"/><rect x="145.0" y="173.0" width="12.5" height="32.0" fill="#e1b19b"/><rect x="159.5" y="173.0" width="12.5" height="32.0" fill="#e1b19b"/><rect x="151.9" y="173.0" width="5.6" height="32.0" fill="#d39f88"/><rect x="166.4" y="173.0" width="5.6" height="32.0" fill="#d39f88"/><rect x="157.5" y="173.0" width="2.0" height="32.0" fill="#c98f7d"/><rect x="143.0" y="205.0" width="31.0" height="30.0" fill="#e1b19b"/><rect x="143.0" y="205.0" width="31.0" height="2.0" fill="#ecc6b3"/><rect x="201.0" y="160.0" width="30.0" height="13.0" fill="#e1b19b"/><rect x="200.0" y="160.0" width="32.0" height="3.0" fill="#ecc6b3"/><rect x="202.0" y="165.0" width="28.0" height="1.6" fill="#d39f88"/><rect x="202.0" y="170.0" width="28.0" height="1.6" fill="#d39f88"/><rect x="202.0" y="175.0" width="28.0" height="1.6" fill="#d39f88"/><rect x="203.0" y="173.0" width="12.0" height="32.0" fill="#e1b19b"/><rect x="217.0" y="173.0" width="12.0" height="32.0" fill="#e1b19b"/><rect x="209.6" y="173.0" width="5.4" height="32.0" fill="#d39f88"/><rect x="223.6" y="173.0" width="5.4" height="32.0" fill="#d39f88"/><rect x="215.0" y="173.0" width="2.0" height="32.0" fill="#c98f7d"/><rect x="201.0" y="205.0" width="30.0" height="30.0" fill="#e1b19b"/><rect x="201.0" y="205.0" width="30.0" height="2.0" fill="#ecc6b3"/><rect x="258.0" y="160.0" width="19.0" height="13.0" fill="#e1b19b"/><rect x="257.0" y="160.0" width="21.0" height="3.0" fill="#ecc6b3"/><rect x="259.0" y="165.0" width="17.0" height="1.6" fill="#d39f88"/><rect x="259.0" y="170.0" width="17.0" height="1.6" fill="#d39f88"/><rect x="259.0" y="175.0" width="17.0" height="1.6" fill="#d39f88"/><rect x="260.5" y="173.0" width="14.0" height="32.0" fill="#e1b19b"/><rect x="268.4" y="173.0" width="5.7" height="32.0" fill="#d39f88"/><rect x="258.0" y="205.0" width="19.0" height="30.0" fill="#e1b19b"/><rect x="258.0" y="205.0" width="19.0" height="2.0" fill="#ecc6b3"/><rect x="317.0" y="160.0" width="16.0" height="13.0" fill="#e1b19b"/><rect x="316.0" y="160.0" width="18.0" height="3.0" fill="#ecc6b3"/><rect x="318.0" y="165.0" width="14.0" height="1.6" fill="#d39f88"/><rect x="318.0" y="170.0" width="14.0" height="1.6" fill="#d39f88"/><rect x="318.0" y="175.0" width="14.0" height="1.6" fill="#d39f88"/><rect x="319.5" y="173.0" width="11.0" height="32.0" fill="#e1b19b"/><rect x="325.8" y="173.0" width="4.8" height="32.0" fill="#d39f88"/><rect x="317.0" y="205.0" width="16.0" height="30.0" fill="#e1b19b"/><rect x="317.0" y="205.0" width="16.0" height="2.0" fill="#ecc6b3"/><rect x="2.0" y="218.0" width="117.0" height="17.5" fill="#e6bba8"/><rect x="336.0" y="218.0" width="163.0" height="17.5" fill="#e6bba8"/><rect x="119.0" y="217.8" width="24.0" height="17.7" fill="#dcab96"/><rect x="174.0" y="217.8" width="27.0" height="17.7" fill="#dcab96"/><rect x="231.0" y="217.8" width="105.0" height="17.7" fill="#dcab96"/><rect x="142.0" y="212.0" width="33.0" height="23.5" fill="#e1b19b"/><rect x="200.0" y="212.0" width="32.0" height="23.5" fill="#e1b19b"/><rect x="257.0" y="212.0" width="21.0" height="23.5" fill="#e1b19b"/><rect x="316.0" y="212.0" width="18.0" height="23.5" fill="#e1b19b"/><polygon points="176,219 207,219 213,235.5 176,235.5" fill="#d5292b"/><polygon points="207,219 210,219 221,235.5 213,235.5" fill="#fbeeea"/><circle cx="202.5" cy="153" r="2.8" fill="#6c5560"/></g></g></svg>
<div class="b" style="left:526px;top:25px;width:291px;height:61px;background:#e03428;border-radius:22px;"></div>
<span class="t" style="left:548px;top:41.43px;font-size:29.5px;color:#fff;font-weight:700;transform:scaleX(1.075);-webkit-text-stroke:.5px #fff;">23 de Dezembro</span>
<span class="t" style="left:550.5px;top:103.01px;font-size:47px;color:#fff;font-weight:700;transform:scaleX(1.1285);text-shadow:-1px 2px 6px rgba(0,35,40,.75),0 1px 3px rgba(0,35,40,.35);-webkit-text-stroke:.7px #fff;">Informação sobre a</span>
<span class="t" style="left:550.5px;top:164.91px;font-size:47px;color:#fff;font-weight:700;transform:scaleX(1.152);text-shadow:-1px 2px 6px rgba(0,35,40,.75),0 1px 3px rgba(0,35,40,.35);-webkit-text-stroke:.7px #fff;">prevenção da epidemia</span>
<span class="t" style="left:75.5px;top:266.59px;font-size:103.5px;color:#26787c;font-weight:700;transform:scaleX(1.165);-webkit-text-stroke:3.5px #26787c;">25</span>
<span class="t" style="left:210px;top:264.14px;font-size:40px;color:#26787c;font-weight:700;transform:scaleX(1.0);-webkit-text-stroke:.6px #26787c;">a</span>
<span class="t" style="left:240.5px;top:291.82px;font-size:49px;color:#26787c;font-weight:700;transform:scaleX(0.93);-webkit-text-stroke:1.3px #26787c;">ronda do plano de fornecimento de máscaras</span>
<div class="b" style="left:47px;top:447.8px;width:1194px;height:407px;background:#ecf6f3;border-radius:37px;"></div>
<div class="b" style="left:258px;top:371.5px;width:772px;height:75.5px;background:#de6672;border-radius:38px;"></div>
<span class="t" style="left:301.5px;top:390.19px;font-size:39px;color:#fff;font-weight:400;transform:scaleX(1.083);-webkit-text-stroke:1.7px #fff;">De 28 de Dezembro a 26 de Janeiro</span>
<div class="b" style="left:451px;top:441px;width:381px;height:66px;background:#26787c;border-radius:33px;"></div>
<span class="t" style="left:476px;top:455.33px;font-size:36px;color:#f4ec3a;font-weight:400;transform:scaleX(1.17);-webkit-text-stroke:1.5px #f4ec3a;">( 30 dias no total)</span>
<svg width="560" height="320" style="left:60px;top:520px" viewBox="60 520 560 320"><defs><filter id="pks" x="-10%" y="-10%" width="120%" height="125%"><feGaussianBlur stdDeviation="3.2"/></filter><linearGradient id="gA" x1="0" y1="0" x2="0" y2="1"><stop offset="0" stop-color="#fff" stop-opacity=".12"/><stop offset=".55" stop-color="#fff" stop-opacity=".55"/><stop offset="1" stop-color="#fff" stop-opacity=".97"/></linearGradient><linearGradient id="gB" x1="0" y1="0" x2="0" y2="1"><stop offset="0" stop-color="#fff" stop-opacity="1"/><stop offset=".3" stop-color="#fff" stop-opacity=".93"/><stop offset=".65" stop-color="#fff" stop-opacity=".55"/><stop offset="1" stop-color="#fff" stop-opacity=".22"/></linearGradient><clipPath id="stk"><path d="M462,571 H496 Q532,573 532.5,612 V705 H431 Z"/></clipPath><clipPath id="mk"><path d="M146,571 H460 V770 H186 Q146,770 146,730 Z"/></clipPath></defs><rect x="80" y="536.5" width="480" height="264" fill="#3a4a4a" opacity=".5" filter="url(#pks)"/><rect x="88" y="548" width="497" height="260" fill="#7f9f98" opacity=".45" filter="url(#pks)"/><rect x="84" y="539.5" width="499.5" height="264.5" fill="#fff"/><rect x="115.2" y="547" width="1" height="251" fill="#cfd5db"/><rect x="561" y="549.5" width="1" height="248.5" fill="#cfd5db"/><path d="M146,571 H462 L431,705 V742 Q431,770 403,770 H186 Q146,770 146,730 Z" fill="#92d2e6"/><path d="M158,582 H405 V732 Q405,757.5 380,757.5 H190 Q158,757.5 158,726 Z" fill="#7ccae2"/><path d="M405,582 H460 L431,705 V742 Q431,757 418,757.5 H380 Q405,757.5 405,732 Z" fill="#86cee4"/><rect x="195.5" y="622.7" width="203.5" height="11.8" rx="5.9" fill="#49accb"/><rect x="195.5" y="666.6" width="203.5" height="11.8" rx="5.9" fill="#49accb"/><rect x="195.5" y="711.1" width="203.5" height="11.8" rx="5.9" fill="#49accb"/><path d="M462,571 H496 Q532,573 532.5,612 V705 H431 Z" fill="#78b8cf"/><g clip-path="url(#stk)"><path d="M461.7,704 V632 Q461.7,588 421.7,568" fill="none" stroke="#90cde1" stroke-width="6"/><path d="M480.9,704 V632 Q480.9,588 440.9,568" fill="none" stroke="#90cde1" stroke-width="6"/><path d="M499,704 V632 Q499,588 459,568" fill="none" stroke="#90cde1" stroke-width="6"/><path d="M517,704 V632 Q517,588 477,568" fill="none" stroke="#90cde1" stroke-width="6"/></g><path d="M458.7,608.4 h3 a12,13.05 0 0 1 0,26.1 h-3 z" fill="#fff"/><path d="M477.9,608.4 h3 a12,13.05 0 0 1 0,26.1 h-3 z" fill="#fff"/><path d="M496,608.4 h3 a12,13.05 0 0 1 0,26.1 h-3 z" fill="#fff"/><path d="M514,608.4 h3 a14,13.05 0 0 1 0,26.1 h-3 z" fill="#fff"/><path d="M372.2,571 L389.6,571 L342.5,770 L325,770 Z" fill="url(#gA)"/><path d="M410,571 L463,571 L418.2,770 L362.3,770 Z" fill="url(#gB)"/><rect x="431.6" y="702.3" width="110.3" height="76.8" fill="#a5d4ee"/><rect x="432" y="702.3" width="106.2" height="72.7" fill="#fff"/><rect x="437" y="759.3" width="94.6" height="7.7" fill="#e8413a"/><text x="0" y="749.3" transform="translate(442.4 0) scale(1.1 1)" font-family="Liberation Sans,sans-serif" font-weight="700" font-size="37" fill="#1a1a1a">$</text><text x="466" y="748.2" font-family="DejaVu Sans,sans-serif" font-size="39" fill="#1a1a1a" letter-spacing="0.8">◆◆</text><circle cx="183.5" cy="603.3" r="48.3" fill="#3c6470"/><text transform="translate(183.5,603.3) rotate(26)" x="0.5" y="24" text-anchor="middle" font-family="Liberation Sans,sans-serif" font-weight="400" font-size="70" fill="#fff" stroke="#fff" stroke-width="3.4" stroke-linejoin="round" letter-spacing="-3">30</text></svg>
<div class="b" style="left:604px;top:540px;width:608.5px;height:96.5px;background:#e04752;border-radius:18px;"></div>
<span class="t" style="left:630.5px;top:556.99px;font-size:26px;color:#fff;font-weight:700;transform:scaleX(1.106);">Cada pessoa pode adquirir 30 máscaras</span>
<span class="t" style="left:630.5px;top:590.59px;font-size:26px;color:#fff;font-weight:700;transform:scaleX(1.106);">de uma vez</span>
<svg width="260" height="200" style="left:590px;top:640px" viewBox="590 640 260 200"><defs><filter id="cs" x="-20%" y="-20%" width="140%" height="140%"><feGaussianBlur stdDeviation="2.2"/></filter></defs><circle cx="684.5" cy="741.5" r="75" fill="#4a5a55" opacity=".7" filter="url(#cs)"/><circle cx="687.5" cy="739.4" r="75.2" fill="#f1cd63"/><circle cx="707" cy="739.4" r="75.2" fill="#ecb85b"/><circle cx="723.4" cy="739.4" r="75.2" fill="#f1cd63"/><circle cx="748.5" cy="739.4" r="75.2" fill="#ecb85b"/><circle cx="748" cy="739.4" r="59.4" fill="#f1cd63"/><text x="0" y="779.6" transform="translate(747.2 0) scale(.84 1)" text-anchor="middle" font-family="Liberation Sans,sans-serif" font-weight="700" font-size="116" fill="#cd9a4c" stroke="#cd9a4c" stroke-width="2" stroke-linejoin="round">$</text></svg>
<span class="t" style="left:844px;top:652.60px;font-size:163.5px;color:#26787c;font-weight:700;transform:scaleX(1.0);-webkit-text-stroke:8px #26787c;paint-order:stroke fill;"><span style="display:inline-block;transform:scaleX(.975);transform-origin:0 0">2</span><span style="display:inline-block;transform:scaleX(.95);transform-origin:0 0;margin-left:16.1px">4</span></span>
<span class="t" style="left:1061px;top:754.15px;font-size:42px;color:#26787c;font-weight:400;transform:scaleX(1.027);">patacas</span>
<div class="b" style="left:85.5px;top:850.5px;width:216.5px;height:49.5px;background:#26787c;border-radius:25px;"></div>
<span class="t" style="left:107px;top:860.80px;font-size:28px;color:#fff;font-weight:700;transform:scaleX(0.96);">Destinatários:</span>
<span class="t" style="left:145px;top:911.56px;font-size:24.5px;color:#26787c;font-weight:700;transform:scaleX(1.089);">Portadores de BIRM permanente e não permanente</span>
<span class="t" style="left:145px;top:942.66px;font-size:24.5px;color:#26787c;font-weight:700;transform:scaleX(1.091);">Portadores de Título de Identificação de Trabalhador Não-residente (Cartão Azul)</span>
<span class="t" style="left:145px;top:975.26px;font-size:24.5px;color:#26787c;font-weight:700;transform:scaleX(1.086);">Estudantes não residentes de Macau portadores de cartão de estudante de uma</span>
<span class="t" style="left:145px;top:1004.46px;font-size:24.5px;color:#26787c;font-weight:700;transform:scaleX(1.0816);">instituição de ensino superior de Macau (obrigatório mostrar o cartão de estudante)</span>
<div class="b" style="left:108.8px;top:912.3px;width:21.4px;height:21.4px;background:#26787c;border-radius:50%;"></div>
<div class="b" style="left:108.8px;top:944.3px;width:21.4px;height:21.4px;background:#26787c;border-radius:50%;"></div>
<div class="b" style="left:108.8px;top:976.0px;width:21.4px;height:21.4px;background:#26787c;border-radius:50%;"></div>
<div class="b" style="left:95px;top:1059px;width:646px;height:73px;background:#26787c;border-radius:27px 27px 0 0;"></div>
<span class="t" style="left:130.5px;top:1074.85px;font-size:42px;color:#fff;font-weight:700;transform:scaleX(1.125);-webkit-text-stroke:.8px #fff;">Máscaras  para crianças</span>
<div class="b" style="left:95.5px;top:1131px;width:1100px;height:224.5px;background:linear-gradient(#4dd0c8,#4acdc5);"></div>
<div class="b" style="left:580px;top:1130.5px;width:616px;height:2.2px;background:#74d9d2;"></div>
<svg width="520" height="240" style="left:95px;top:1125px" viewBox="95 1125 520 240"><defs><clipPath id="gc"><rect x="95.5" y="1130.5" width="600" height="224.8"/></clipPath><filter id="gb" x="-5%" y="-5%" width="110%" height="110%"><feGaussianBlur stdDeviation="0.6"/></filter></defs><g clip-path="url(#gc)"><g filter="url(#gb)"><path d="M113.4,1132.3 L154.3,1136.7 Q167,1148 177,1163 L161,1197 L140,1193 L101,1182 L104,1168 L110,1161 L107,1150 L112,1146 Z" fill="#6e2f1b"/><path d="M296,1360 L350,1360 L386,1314 L420,1311 Q427,1303 423,1294 L402,1288 L366,1286 L363,1274 Q357,1268 350,1272 L346,1290 L352,1304 L312,1338 Z" fill="#fde6ba"/><path d="M157,1362 L169,1336 Q176,1326 183,1322 L192,1362 Z" fill="#fde6ba"/><path d="M187,1362 L180,1327 Q194,1305 224,1299 L292,1297 Q312,1306 319,1326 L316,1340 L300,1362 Z" fill="#fefefe"/><path d="M252,1308 V1360" stroke="#e6eef2" stroke-width="2" fill="none"/><path d="M232,1290 H280 V1306 Q256,1316 232,1306 Z" fill="#fbdcc4"/><path d="M220,1301 Q236,1322 252,1308 Q232,1298 222,1296 Z" fill="#c6e8f2"/><path d="M286,1298 Q274,1320 254,1308 Q272,1298 284,1294 Z" fill="#c6e8f2"/><circle cx="290.5" cy="1342.8" r="8" fill="#f0569b"/><rect x="287" y="1348" width="10" height="10" fill="#f7a3c4"/><path d="M216,1196 H308 Q316,1250 310,1290 Q290,1306 256,1304 Q222,1300 208,1290 Z" fill="#fdebd9"/><path d="M214,1262 Q236,1296 262,1303 Q226,1304 208,1292 Z" fill="#fbd8c2"/><path d="M159,1239 Q160,1196 182,1170 Q206,1140 240,1138 Q284,1138 310,1168 Q338,1200 337.5,1236 Q337,1268 316.5,1290 Q312,1262 303,1229 Q300,1212 298,1202 Q262,1198 229,1205 Q221,1208 221,1216 L221,1258 Q218,1282 209,1296 Q190,1284 179,1262 Q166,1252 159,1239 Z" fill="#6e2f1b"/><path d="M164,1159 Q175,1160 182,1168 L168,1198 Q158,1198 153,1192 Q151,1180 158,1172 Z" fill="#e8310f"/><circle cx="168" cy="1258.6" r="14.5" fill="#f6f6ea"/><circle cx="170" cy="1258.6" r="10.5" fill="#fdebd9"/><path d="M176,1250 Q164,1252 166,1262 Q170,1268 177,1266 Q170,1260 176,1250 Z" fill="#dcb79b"/><ellipse cx="244.5" cy="1242.5" rx="4.8" ry="13" fill="#5b2c1f"/><ellipse cx="290.3" cy="1240" rx="4.8" ry="12.5" fill="#5b2c1f"/><path d="M241,1233 L251,1227 M288,1230 L299,1225" stroke="#5b2c1f" stroke-width="2.2" stroke-linecap="round"/><path d="M234,1217 Q240,1209 251,1212 M284,1210 Q291,1205 298,1209" stroke="#6e2f1b" stroke-width="2.6" fill="none" stroke-linecap="round"/><path d="M248,1270 Q268,1263 287,1267 Q288,1292 268,1292.5 Q250,1292 248,1270 Z" fill="#f91e00"/><path d="M364,1229 Q346,1236 350,1254 Q352,1270 366,1277" stroke="#e9fbfb" stroke-width="3" fill="none"/><path d="M479,1232 Q497,1238 496,1255 Q494,1272 479,1278" stroke="#e9fbfb" stroke-width="3" fill="none"/><rect x="362.5" y="1219.5" width="118" height="66" rx="13" fill="#80d9f6"/><rect x="371" y="1237.8" width="101" height="2.4" fill="#6ccaea"/><rect x="371" y="1255.8" width="101" height="2.4" fill="#6ccaea"/><rect x="371" y="1273.8" width="101" height="2.4" fill="#6ccaea"/><path d="M348,1274 Q356,1268 363,1275 L366,1290 L350,1294 Z" fill="#fde6ba"/></g></g></svg>
<div class="b" style="left:508px;top:1163.5px;width:164px;height:164px;background:#0c8478;border-radius:50%;"></div>
<span class="t" style="left:537.3px;top:1186.34px;font-size:83px;color:#e8fffb;font-weight:700;transform:scaleX(0.89);letter-spacing:-1px;">3<span style="position:relative;top:-7px">-</span>8</span>
<span class="t" style="left:535.5px;top:1250.38px;font-size:50px;color:#e8fffb;font-weight:400;transform:scaleX(0.996);-webkit-text-stroke:1.6px #e8fffb;">anos</span>
<span class="t" style="left:694px;top:1152.19px;font-size:32.5px;color:#0e8b7f;font-weight:400;transform:scaleX(1.027);-webkit-text-stroke:.8px #0e8b7f;">30 máscaras para adultos</span>
<span class="t" style="left:695.5px;top:1212.68px;font-size:24px;color:#e6fbf8;font-weight:700;transform:scaleX(1.26);">ou</span>
<span class="t" style="left:742px;top:1205.49px;font-size:32.5px;color:#0e8b7f;font-weight:400;transform:scaleX(1.018);-webkit-text-stroke:.8px #0e8b7f;">30 máscaras para crianças</span>
<span class="t" style="left:695.5px;top:1267.08px;font-size:24px;color:#e6fbf8;font-weight:700;transform:scaleX(1.26);">ou</span>
<span class="t" style="left:745px;top:1259.89px;font-size:32.5px;color:#0e8b7f;font-weight:400;transform:scaleX(1.004);-webkit-text-stroke:.8px #0e8b7f;">15 máscaras para crianças +</span>
<span class="t" style="left:745px;top:1299.99px;font-size:32.5px;color:#0e8b7f;font-weight:400;transform:scaleX(1.012);-webkit-text-stroke:.8px #0e8b7f;">15 máscaras para adultos</span>
<div class="b" style="left:96px;top:1355px;width:1099px;height:151.5px;background:#26787c;border-radius:0 0 0 32px;"></div>
<div class="b" style="left:915px;top:1462px;width:290px;height:60px;background:#b3dfe4;border-radius:42px 0 0 0;"></div>
<svg width="110" height="95" style="left:135px;top:1382px" viewBox="135 1382 110 95"><path d="M189,1394 L231.8,1463.3 H146.2 Z" fill="#fcc40f" stroke="#fcc40f" stroke-width="10" stroke-linejoin="round"/><text x="190.3" y="1460.6" text-anchor="middle" font-family="Liberation Sans,sans-serif" font-weight="700" font-size="76" fill="#0c0c0c" transform="translate(190.3 0) scale(1.12 1) translate(-190.3 0)">!</text></svg>
<span class="t" style="left:274px;top:1390.30px;font-size:28px;color:#f4ec3a;font-weight:700;transform:scaleX(1.019);">Todos os serviços dos Centros de Saúde estarão encerrados na</span>
<span class="t" style="left:281.5px;top:1416.00px;font-size:28px;color:#f4ec3a;font-weight:700;transform:scaleX(1.018);">tarde do dia 31 de Dezembro e todo o dia 1 de Janeiro</span>
<svg width="330" height="110" style="left:920px;top:1480px" viewBox="920 1480 330 110"><defs><pattern id="ls" width="4" height="2.6" patternUnits="userSpaceOnUse"><rect width="4" height="2.6" fill="#fdd521"/><rect y="1.7" width="4" height=".9" fill="#f5c41c"/></pattern></defs><path d="M949.0,1491.7 A62,62 0 0 0 949.0,1559.3" stroke="#efc9ce" stroke-width="4" fill="none" opacity="0.42" stroke-linecap="round"/><path d="M959.1,1498.3 A50,50 0 0 0 959.1,1552.7" stroke="#efc9ce" stroke-width="3.2" fill="none" opacity="0.38" stroke-linecap="round"/><path d="M966.6,1503.2 A41,41 0 0 0 966.6,1547.8" stroke="#efc9ce" stroke-width="2.4" fill="none" opacity="0.28" stroke-linecap="round"/><circle cx="1001" cy="1525.8" r="34.7" fill="url(#ls)"/><path d="M998.2,1496.4 A29,29 0 0 0 998.2,1554.2" stroke="#1d1a16" stroke-width="3.5" fill="none"/><rect x="999.3" y="1537" width="3.5" height="25.3" fill="#1d1a16"/><circle cx="1001" cy="1525.6" r="4" fill="#d9f1f1"/><text x="0" y="1554.3" transform="translate(1006 0) scale(.8 1)" font-family="Liberation Sans,sans-serif" font-weight="700" font-size="24" fill="#1d1a16">CS</text><rect x="1046.2" y="1493" width="2.1" height="69.7" fill="#1d1a16"/></svg>
<span class="t" style="left:1054.5px;top:1493.78px;font-size:30.5px;color:#222;font-weight:400;transform:scaleX(1.0);font-family:'Liberation Sans','Noto Sans CJK TC',sans-serif;transform:skewX(-12deg) scaleX(.9);transform-origin:0 100%;">新<span style="display:inline-block;width:16.7px;text-align:center;position:relative;left:1.6px;top:-2.8px;font-size:28px;font-weight:700;color:#f8c21c">·</span>聞<span style="display:inline-block;width:16.7px;text-align:center;position:relative;left:1.6px;top:-2.8px;font-size:28px;font-weight:700;color:#f8c21c">·</span>局</span>
<span class="t" style="left:1056.5px;top:1527.70px;font-size:15px;color:#222;font-weight:400;transform:scaleX(1.415);font-style:italic;-webkit-text-stroke:.3px #222;">Gabinete de</span>
<span class="t" style="left:1056.5px;top:1546.90px;font-size:15px;color:#222;font-weight:400;transform:scaleX(1.376);font-style:italic;-webkit-text-stroke:.3px #222;">Comunicação Social</span>
</body></html>
